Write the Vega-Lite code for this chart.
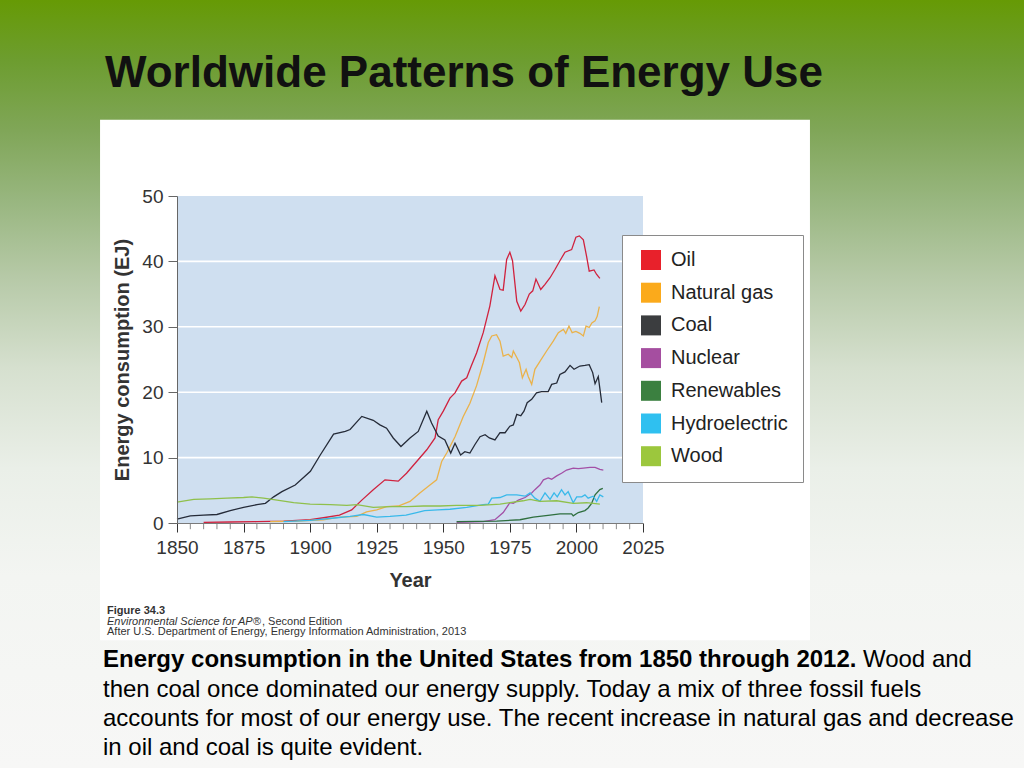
{
  "$schema": "https://vega.github.io/schema/vega-lite/v6.json",
  "width": 1024,
  "height": 768,
  "padding": 0,
  "autosize": {"type": "none"},
  "background": "#f7f7f6",
  "view": {
    "stroke": null,
    "fill": {
      "gradient": "linear", "x1": 0, "y1": 0, "x2": 0, "y2": 1,
      "stops": [
        {"offset": 0, "color": "#669a05"},
        {"offset": 0.08, "color": "#6d9d30"},
        {"offset": 0.17, "color": "#80a658"},
        {"offset": 0.26, "color": "#98b67f"},
        {"offset": 0.36, "color": "#b6c9a7"},
        {"offset": 0.48, "color": "#d6e0cf"},
        {"offset": 0.61, "color": "#eaefe8"},
        {"offset": 0.75, "color": "#f3f5f2"},
        {"offset": 1, "color": "#f7f7f6"}
      ]
    }
  },
  "layer": [
    {
      "data": {"values": [{}]},
      "mark": {"type": "rect", "fill": "#ffffff"},
      "encoding": {
        "x": {"datum": 1821.1, "type": "quantitative", "scale": {"domain": [1850, 2025], "range": [177, 643], "nice": false, "zero": false}},
        "x2": {"datum": 2087.7},
        "y": {"datum": 61.66, "type": "quantitative", "scale": {"domain": [0, 50], "range": [523, 196], "nice": false, "zero": false}},
        "y2": {"datum": -17.94}
      }
    },
    {
      "data": {"values": [{}]},
      "mark": {"type": "rect", "fill": "#cfdff0"},
      "encoding": {
        "x": {"datum": 1850, "type": "quantitative"},
        "x2": {"datum": 2025},
        "y": {"datum": 0, "type": "quantitative"},
        "y2": {"datum": 50}
      }
    },
    {
      "data": {"values": [{"g": 10}, {"g": 20}, {"g": 30}, {"g": 40}]},
      "mark": {"type": "rule", "color": "#ffffff", "strokeWidth": 1.6},
      "encoding": {
        "x": {"datum": 1850, "type": "quantitative"},
        "x2": {"datum": 2025},
        "y": {"field": "g", "type": "quantitative"}
      }
    },
    {
      "data": {"values": [
        {"t": 1855}, {"t": 1860}, {"t": 1865}, {"t": 1870}, {"t": 1880}, {"t": 1885}, {"t": 1890}, {"t": 1895},
        {"t": 1905}, {"t": 1910}, {"t": 1915}, {"t": 1920}, {"t": 1930}, {"t": 1935}, {"t": 1940}, {"t": 1945},
        {"t": 1955}, {"t": 1960}, {"t": 1965}, {"t": 1970}, {"t": 1980}, {"t": 1985}, {"t": 1990}, {"t": 1995},
        {"t": 2005}, {"t": 2010}, {"t": 2015}, {"t": 2020}
      ]},
      "mark": {"type": "rule", "color": "#8a8a8a", "strokeWidth": 1},
      "encoding": {
        "x": {"field": "t", "type": "quantitative"},
        "y": {"datum": 0, "type": "quantitative"},
        "y2": {"datum": -0.95}
      }
    },
    {
      "data": {"values": [
        {"source": "Oil", "year": 1860, "ej": 0.1}, {"source": "Oil", "year": 1870, "ej": 0.15}, {"source": "Oil", "year": 1880, "ej": 0.2}, {"source": "Oil", "year": 1890, "ej": 0.3}, {"source": "Oil", "year": 1900, "ej": 0.5}, {"source": "Oil", "year": 1905, "ej": 0.8}, {"source": "Oil", "year": 1911, "ej": 1.2}, {"source": "Oil", "year": 1915.6, "ej": 2.0}, {"source": "Oil", "year": 1919.4, "ej": 3.5}, {"source": "Oil", "year": 1923.7, "ej": 5.1}, {"source": "Oil", "year": 1928.1, "ej": 6.6}, {"source": "Oil", "year": 1933.1, "ej": 6.4}, {"source": "Oil", "year": 1936.2, "ej": 7.6}, {"source": "Oil", "year": 1940, "ej": 9.4}, {"source": "Oil", "year": 1943.8, "ej": 11.2}, {"source": "Oil", "year": 1946.9, "ej": 13.0}, {"source": "Oil", "year": 1948.1, "ej": 15.8}, {"source": "Oil", "year": 1950, "ej": 17.1}, {"source": "Oil", "year": 1952.5, "ej": 19.1}, {"source": "Oil", "year": 1954.4, "ej": 19.9}, {"source": "Oil", "year": 1956.9, "ej": 21.7}, {"source": "Oil", "year": 1958.8, "ej": 22.2}, {"source": "Oil", "year": 1960.5, "ej": 24.0}, {"source": "Oil", "year": 1962.5, "ej": 26.0}, {"source": "Oil", "year": 1965, "ej": 29.1}, {"source": "Oil", "year": 1967.5, "ej": 33.2}, {"source": "Oil", "year": 1969.4, "ej": 37.8}, {"source": "Oil", "year": 1971.3, "ej": 35.7}, {"source": "Oil", "year": 1972.5, "ej": 35.6}, {"source": "Oil", "year": 1973.8, "ej": 40.3}, {"source": "Oil", "year": 1975, "ej": 41.4}, {"source": "Oil", "year": 1976, "ej": 40.1}, {"source": "Oil", "year": 1977.6, "ej": 33.9}, {"source": "Oil", "year": 1979.1, "ej": 32.4}, {"source": "Oil", "year": 1980.7, "ej": 33.4}, {"source": "Oil", "year": 1982.3, "ej": 35.0}, {"source": "Oil", "year": 1983.6, "ej": 35.5}, {"source": "Oil", "year": 1984.8, "ej": 37.3}, {"source": "Oil", "year": 1986.6, "ej": 35.7}, {"source": "Oil", "year": 1988.2, "ej": 36.5}, {"source": "Oil", "year": 1990.1, "ej": 37.5}, {"source": "Oil", "year": 1992, "ej": 38.8}, {"source": "Oil", "year": 1993.8, "ej": 40.1}, {"source": "Oil", "year": 1995.7, "ej": 41.4}, {"source": "Oil", "year": 1998.2, "ej": 41.8}, {"source": "Oil", "year": 1999.8, "ej": 43.7}, {"source": "Oil", "year": 2001.1, "ej": 43.9}, {"source": "Oil", "year": 2002.6, "ej": 43.3}, {"source": "Oil", "year": 2003.8, "ej": 40.8}, {"source": "Oil", "year": 2004.8, "ej": 38.5}, {"source": "Oil", "year": 2006.6, "ej": 38.7}, {"source": "Oil", "year": 2007.6, "ej": 38.0}, {"source": "Oil", "year": 2008.8, "ej": 37.4},
        {"source": "Natural gas", "year": 1885, "ej": 0.2}, {"source": "Natural gas", "year": 1895, "ej": 0.3}, {"source": "Natural gas", "year": 1905, "ej": 0.5}, {"source": "Natural gas", "year": 1911.2, "ej": 0.9}, {"source": "Natural gas", "year": 1917.5, "ej": 1.0}, {"source": "Natural gas", "year": 1921.2, "ej": 1.7}, {"source": "Natural gas", "year": 1925, "ej": 2.0}, {"source": "Natural gas", "year": 1928.7, "ej": 2.5}, {"source": "Natural gas", "year": 1933.1, "ej": 2.6}, {"source": "Natural gas", "year": 1937.5, "ej": 3.3}, {"source": "Natural gas", "year": 1941.2, "ej": 4.6}, {"source": "Natural gas", "year": 1945, "ej": 5.8}, {"source": "Natural gas", "year": 1947.5, "ej": 6.6}, {"source": "Natural gas", "year": 1949.4, "ej": 9.4}, {"source": "Natural gas", "year": 1951.3, "ej": 10.7}, {"source": "Natural gas", "year": 1954.4, "ej": 13.2}, {"source": "Natural gas", "year": 1957.5, "ej": 16.3}, {"source": "Natural gas", "year": 1960, "ej": 18.3}, {"source": "Natural gas", "year": 1962.5, "ej": 21.0}, {"source": "Natural gas", "year": 1965, "ej": 24.5}, {"source": "Natural gas", "year": 1966.9, "ej": 27.6}, {"source": "Natural gas", "year": 1968.2, "ej": 28.6}, {"source": "Natural gas", "year": 1970, "ej": 28.8}, {"source": "Natural gas", "year": 1971.3, "ej": 27.8}, {"source": "Natural gas", "year": 1972.5, "ej": 25.5}, {"source": "Natural gas", "year": 1974.4, "ej": 25.8}, {"source": "Natural gas", "year": 1975.7, "ej": 25.3}, {"source": "Natural gas", "year": 1976.3, "ej": 26.3}, {"source": "Natural gas", "year": 1977.6, "ej": 25.3}, {"source": "Natural gas", "year": 1978.6, "ej": 24.5}, {"source": "Natural gas", "year": 1979.7, "ej": 22.2}, {"source": "Natural gas", "year": 1981.1, "ej": 23.5}, {"source": "Natural gas", "year": 1981.9, "ej": 22.4}, {"source": "Natural gas", "year": 1983.2, "ej": 21.2}, {"source": "Natural gas", "year": 1984.4, "ej": 23.5}, {"source": "Natural gas", "year": 1986.3, "ej": 24.7}, {"source": "Natural gas", "year": 1988.8, "ej": 26.3}, {"source": "Natural gas", "year": 1991.3, "ej": 27.8}, {"source": "Natural gas", "year": 1993.2, "ej": 29.1}, {"source": "Natural gas", "year": 1995.1, "ej": 29.6}, {"source": "Natural gas", "year": 1996, "ej": 29.0}, {"source": "Natural gas", "year": 1997.2, "ej": 30.1}, {"source": "Natural gas", "year": 1998.4, "ej": 29.1}, {"source": "Natural gas", "year": 1999.8, "ej": 29.3}, {"source": "Natural gas", "year": 2001.3, "ej": 29.0}, {"source": "Natural gas", "year": 2002.6, "ej": 28.6}, {"source": "Natural gas", "year": 2003.6, "ej": 30.1}, {"source": "Natural gas", "year": 2004.8, "ej": 29.9}, {"source": "Natural gas", "year": 2005.8, "ej": 30.6}, {"source": "Natural gas", "year": 2007, "ej": 30.9}, {"source": "Natural gas", "year": 2007.8, "ej": 31.6}, {"source": "Natural gas", "year": 2008.6, "ej": 33.1},
        {"source": "Coal", "year": 1850, "ej": 0.6}, {"source": "Coal", "year": 1855, "ej": 1.1}, {"source": "Coal", "year": 1860, "ej": 1.2}, {"source": "Coal", "year": 1865, "ej": 1.3}, {"source": "Coal", "year": 1870, "ej": 1.9}, {"source": "Coal", "year": 1875, "ej": 2.4}, {"source": "Coal", "year": 1880, "ej": 2.8}, {"source": "Coal", "year": 1883.2, "ej": 3.0}, {"source": "Coal", "year": 1886.3, "ej": 4.0}, {"source": "Coal", "year": 1889.4, "ej": 4.8}, {"source": "Coal", "year": 1894.4, "ej": 5.8}, {"source": "Coal", "year": 1900.1, "ej": 7.9}, {"source": "Coal", "year": 1903.8, "ej": 10.4}, {"source": "Coal", "year": 1908.8, "ej": 13.6}, {"source": "Coal", "year": 1913.2, "ej": 14.0}, {"source": "Coal", "year": 1915, "ej": 14.3}, {"source": "Coal", "year": 1919.4, "ej": 16.3}, {"source": "Coal", "year": 1923.7, "ej": 15.7}, {"source": "Coal", "year": 1926.2, "ej": 15.0}, {"source": "Coal", "year": 1928.7, "ej": 14.5}, {"source": "Coal", "year": 1931.2, "ej": 13.0}, {"source": "Coal", "year": 1934.1, "ej": 11.7}, {"source": "Coal", "year": 1937.5, "ej": 13.0}, {"source": "Coal", "year": 1940.6, "ej": 14.0}, {"source": "Coal", "year": 1943.8, "ej": 17.1}, {"source": "Coal", "year": 1945.6, "ej": 15.3}, {"source": "Coal", "year": 1948.1, "ej": 13.3}, {"source": "Coal", "year": 1950.6, "ej": 12.7}, {"source": "Coal", "year": 1952.8, "ej": 10.7}, {"source": "Coal", "year": 1954.4, "ej": 12.2}, {"source": "Coal", "year": 1956.5, "ej": 10.4}, {"source": "Coal", "year": 1958.1, "ej": 10.9}, {"source": "Coal", "year": 1960, "ej": 10.7}, {"source": "Coal", "year": 1961.9, "ej": 12.0}, {"source": "Coal", "year": 1963.8, "ej": 13.2}, {"source": "Coal", "year": 1965.7, "ej": 13.5}, {"source": "Coal", "year": 1967.3, "ej": 13.0}, {"source": "Coal", "year": 1969.4, "ej": 12.7}, {"source": "Coal", "year": 1971.3, "ej": 13.8}, {"source": "Coal", "year": 1973.2, "ej": 13.8}, {"source": "Coal", "year": 1975, "ej": 14.8}, {"source": "Coal", "year": 1976.3, "ej": 15.0}, {"source": "Coal", "year": 1977.6, "ej": 16.6}, {"source": "Coal", "year": 1979.1, "ej": 16.4}, {"source": "Coal", "year": 1980.3, "ej": 17.1}, {"source": "Coal", "year": 1981.5, "ej": 18.4}, {"source": "Coal", "year": 1983.2, "ej": 18.9}, {"source": "Coal", "year": 1985, "ej": 19.9}, {"source": "Coal", "year": 1986.9, "ej": 20.1}, {"source": "Coal", "year": 1989.4, "ej": 20.1}, {"source": "Coal", "year": 1990.7, "ej": 21.2}, {"source": "Coal", "year": 1992.6, "ej": 21.4}, {"source": "Coal", "year": 1993.8, "ej": 22.7}, {"source": "Coal", "year": 1995.7, "ej": 23.1}, {"source": "Coal", "year": 1997.6, "ej": 24.1}, {"source": "Coal", "year": 1999.1, "ej": 23.5}, {"source": "Coal", "year": 2001.3, "ej": 24.0}, {"source": "Coal", "year": 2003.2, "ej": 24.1}, {"source": "Coal", "year": 2004.8, "ej": 24.2}, {"source": "Coal", "year": 2006.1, "ej": 23.0}, {"source": "Coal", "year": 2007, "ej": 21.3}, {"source": "Coal", "year": 2008.2, "ej": 22.4}, {"source": "Coal", "year": 2009.5, "ej": 18.4},
        {"source": "Nuclear", "year": 1955, "ej": 0.1}, {"source": "Nuclear", "year": 1965, "ej": 0.2}, {"source": "Nuclear", "year": 1969.4, "ej": 0.5}, {"source": "Nuclear", "year": 1972.5, "ej": 1.6}, {"source": "Nuclear", "year": 1975, "ej": 3.1}, {"source": "Nuclear", "year": 1976.3, "ej": 3.0}, {"source": "Nuclear", "year": 1978.2, "ej": 3.5}, {"source": "Nuclear", "year": 1980.7, "ej": 3.9}, {"source": "Nuclear", "year": 1983.2, "ej": 4.6}, {"source": "Nuclear", "year": 1984.4, "ej": 5.1}, {"source": "Nuclear", "year": 1986.3, "ej": 5.8}, {"source": "Nuclear", "year": 1987.6, "ej": 6.6}, {"source": "Nuclear", "year": 1989.4, "ej": 6.9}, {"source": "Nuclear", "year": 1990.7, "ej": 6.7}, {"source": "Nuclear", "year": 1992.6, "ej": 7.2}, {"source": "Nuclear", "year": 1994.4, "ej": 7.6}, {"source": "Nuclear", "year": 1996.3, "ej": 8.1}, {"source": "Nuclear", "year": 1998.8, "ej": 8.4}, {"source": "Nuclear", "year": 2000.7, "ej": 8.3}, {"source": "Nuclear", "year": 2002.6, "ej": 8.4}, {"source": "Nuclear", "year": 2005.1, "ej": 8.5}, {"source": "Nuclear", "year": 2007, "ej": 8.5}, {"source": "Nuclear", "year": 2008.8, "ej": 8.2}, {"source": "Nuclear", "year": 2010.1, "ej": 8.1},
        {"source": "Renewables", "year": 1955, "ej": 0.2}, {"source": "Renewables", "year": 1970, "ej": 0.3}, {"source": "Renewables", "year": 1978.8, "ej": 0.5}, {"source": "Renewables", "year": 1983.8, "ej": 0.9}, {"source": "Renewables", "year": 1990.1, "ej": 1.2}, {"source": "Renewables", "year": 1993.8, "ej": 1.4}, {"source": "Renewables", "year": 1998.2, "ej": 1.4}, {"source": "Renewables", "year": 1998.8, "ej": 1.1}, {"source": "Renewables", "year": 2000.7, "ej": 1.6}, {"source": "Renewables", "year": 2003.2, "ej": 1.9}, {"source": "Renewables", "year": 2004.4, "ej": 2.3}, {"source": "Renewables", "year": 2005.7, "ej": 3.0}, {"source": "Renewables", "year": 2007, "ej": 4.3}, {"source": "Renewables", "year": 2008.8, "ej": 5.1}, {"source": "Renewables", "year": 2009.9, "ej": 5.3},
        {"source": "Hydroelectric", "year": 1890, "ej": 0.2}, {"source": "Hydroelectric", "year": 1900, "ej": 0.4}, {"source": "Hydroelectric", "year": 1910, "ej": 0.8}, {"source": "Hydroelectric", "year": 1915, "ej": 1.0}, {"source": "Hydroelectric", "year": 1920, "ej": 1.3}, {"source": "Hydroelectric", "year": 1925, "ej": 0.9}, {"source": "Hydroelectric", "year": 1930, "ej": 1.0}, {"source": "Hydroelectric", "year": 1936, "ej": 1.2}, {"source": "Hydroelectric", "year": 1940, "ej": 1.6}, {"source": "Hydroelectric", "year": 1943, "ej": 1.9}, {"source": "Hydroelectric", "year": 1948, "ej": 2.0}, {"source": "Hydroelectric", "year": 1952.5, "ej": 2.1}, {"source": "Hydroelectric", "year": 1958.8, "ej": 2.4}, {"source": "Hydroelectric", "year": 1965, "ej": 2.8}, {"source": "Hydroelectric", "year": 1966.9, "ej": 2.9}, {"source": "Hydroelectric", "year": 1968.2, "ej": 3.8}, {"source": "Hydroelectric", "year": 1971.3, "ej": 3.9}, {"source": "Hydroelectric", "year": 1973.8, "ej": 4.3}, {"source": "Hydroelectric", "year": 1977.6, "ej": 4.3}, {"source": "Hydroelectric", "year": 1980.7, "ej": 4.1}, {"source": "Hydroelectric", "year": 1982.6, "ej": 4.6}, {"source": "Hydroelectric", "year": 1984.4, "ej": 3.8}, {"source": "Hydroelectric", "year": 1986.3, "ej": 3.3}, {"source": "Hydroelectric", "year": 1988.2, "ej": 4.6}, {"source": "Hydroelectric", "year": 1990.1, "ej": 3.6}, {"source": "Hydroelectric", "year": 1991.6, "ej": 4.6}, {"source": "Hydroelectric", "year": 1992.8, "ej": 4.0}, {"source": "Hydroelectric", "year": 1994.4, "ej": 5.1}, {"source": "Hydroelectric", "year": 1995.7, "ej": 4.3}, {"source": "Hydroelectric", "year": 1996.9, "ej": 4.8}, {"source": "Hydroelectric", "year": 1998.8, "ej": 3.1}, {"source": "Hydroelectric", "year": 2000.1, "ej": 4.0}, {"source": "Hydroelectric", "year": 2002, "ej": 4.0}, {"source": "Hydroelectric", "year": 2003.2, "ej": 4.3}, {"source": "Hydroelectric", "year": 2004.4, "ej": 3.8}, {"source": "Hydroelectric", "year": 2006.3, "ej": 4.1}, {"source": "Hydroelectric", "year": 2007.6, "ej": 3.3}, {"source": "Hydroelectric", "year": 2008.8, "ej": 4.3}, {"source": "Hydroelectric", "year": 2010.1, "ej": 4.0},
        {"source": "Wood", "year": 1850, "ej": 3.2}, {"source": "Wood", "year": 1856.3, "ej": 3.6}, {"source": "Wood", "year": 1862.5, "ej": 3.7}, {"source": "Wood", "year": 1868.8, "ej": 3.8}, {"source": "Wood", "year": 1875, "ej": 3.9}, {"source": "Wood", "year": 1878.2, "ej": 4.0}, {"source": "Wood", "year": 1882.5, "ej": 3.8}, {"source": "Wood", "year": 1887.6, "ej": 3.5}, {"source": "Wood", "year": 1893.8, "ej": 3.1}, {"source": "Wood", "year": 1900, "ej": 2.9}, {"source": "Wood", "year": 1907.6, "ej": 2.8}, {"source": "Wood", "year": 1913.8, "ej": 2.7}, {"source": "Wood", "year": 1917.5, "ej": 2.8}, {"source": "Wood", "year": 1923.7, "ej": 2.4}, {"source": "Wood", "year": 1930, "ej": 2.5}, {"source": "Wood", "year": 1936.3, "ej": 2.5}, {"source": "Wood", "year": 1942.5, "ej": 2.6}, {"source": "Wood", "year": 1948.8, "ej": 2.6}, {"source": "Wood", "year": 1955, "ej": 2.7}, {"source": "Wood", "year": 1963.8, "ej": 2.7}, {"source": "Wood", "year": 1971.3, "ej": 2.9}, {"source": "Wood", "year": 1980, "ej": 3.4}, {"source": "Wood", "year": 1982.6, "ej": 3.6}, {"source": "Wood", "year": 1986.3, "ej": 3.3}, {"source": "Wood", "year": 1992.6, "ej": 3.4}, {"source": "Wood", "year": 1998.8, "ej": 3.0}, {"source": "Wood", "year": 2003.8, "ej": 3.1}, {"source": "Wood", "year": 2008.8, "ej": 2.9}
      ]},
      "mark": {"type": "line", "strokeWidth": 1.3},
      "encoding": {
        "x": {
          "field": "year", "type": "quantitative",
          "scale": {"domain": [1850, 2025], "range": [177, 643], "nice": false, "zero": false},
          "axis": {
            "orient": "bottom", "offset": -245, "zindex": 1,
            "values": [1850, 1875, 1900, 1925, 1950, 1975, 2000, 2025],
            "format": "d",
            "grid": false,
            "domainColor": "#7a7a7a",
            "tickColor": "#333333",
            "tickSize": 9,
            "labelFont": "Liberation Sans", "labelFontSize": 19, "labelColor": "#333333", "labelPadding": 6,
            "labelOverlap": false, "labelFlush": false,
            "title": "Year", "titleFont": "Liberation Sans", "titleFontSize": 20, "titleFontWeight": "bold", "titleColor": "#333333", "titlePadding": 13
          }
        },
        "y": {
          "field": "ej", "type": "quantitative",
          "scale": {"domain": [0, 50], "range": [523, 196], "nice": false, "zero": false},
          "axis": {
            "orient": "left", "offset": -177, "zindex": 1,
            "values": [0, 10, 20, 30, 40, 50],
            "grid": false,
            "domainColor": "#666666", "tickColor": "#666666", "tickSize": 9,
            "labelFont": "Liberation Sans", "labelFontSize": 19, "labelColor": "#333333", "labelPadding": 5,
            "title": "Energy consumption (EJ)", "titleFont": "Liberation Sans", "titleFontSize": 20, "titleFontWeight": "bold", "titleColor": "#333333", "titlePadding": 9
          }
        },
        "color": {
          "field": "source", "type": "nominal",
          "scale": {
            "domain": ["Oil", "Natural gas", "Coal", "Nuclear", "Renewables", "Hydroelectric", "Wood"],
            "range": ["#d0223e", "#eab24a", "#252b38", "#a350a6", "#2f6f3f", "#39b9ea", "#8fc04b"]
          },
          "legend": {
            "orient": "none", "legendX": 622, "legendY": 235, "title": null,
            "symbolType": "square", "symbolSize": 400, "symbolStrokeWidth": 0, "symbolOffset": 4,
            "labelFont": "Liberation Sans", "labelFontSize": 20, "labelColor": "#222222", "labelOffset": 10,
            "rowPadding": 12.7, "padding": 15,
            "fillColor": "#ffffff", "strokeColor": "#8a8a8a",
            "encode": {
              "symbols": {
                "update": {
                  "fill": {"signal": "({'Oil':'#e8212b','Natural gas':'#fbaa1b','Coal':'#3b3d3f','Nuclear':'#a54ea0','Renewables':'#3b8040','Hydroelectric':'#2fc0f0','Wood':'#9cc73d'})[datum.value]"},
                  "stroke": {"value": "transparent"},
                  "opacity": {"value": 1}
                }
              }
            }
          }
        }
      }
    },
    {
      "data": {"values": [{}]},
      "mark": {"type": "text", "font": "Liberation Sans", "fontSize": 44, "fontWeight": "bold", "color": "#111111", "align": "left", "baseline": "alphabetic"},
      "encoding": {
        "x": {"datum": 1822.96, "type": "quantitative"},
        "y": {"datum": 66.72, "type": "quantitative"},
        "text": {"value": "Worldwide Patterns of Energy Use"}
      }
    },
    {
      "data": {"values": [{}]},
      "mark": {"type": "text", "font": "Liberation Sans", "fontSize": 24, "fontWeight": "bold", "color": "#000000", "align": "left", "baseline": "alphabetic"},
      "encoding": {
        "x": {"datum": 1822.21, "type": "quantitative"},
        "y": {"datum": -22.09, "type": "quantitative"},
        "text": {"value": "Energy consumption in the United States from 1850 through 2012."}
      }
    },
    {
      "data": {"values": [{}]},
      "mark": {"type": "text", "font": "Liberation Sans", "fontSize": 24, "color": "#000000", "align": "left", "baseline": "alphabetic"},
      "encoding": {
        "x": {"datum": 2107.6, "type": "quantitative"},
        "y": {"datum": -22.09, "type": "quantitative"},
        "text": {"value": "Wood and"}
      }
    },
    {
      "data": {"values": [{}]},
      "mark": {"type": "text", "font": "Liberation Sans", "fontSize": 24, "color": "#000000", "align": "left", "baseline": "alphabetic", "lineHeight": 29},
      "encoding": {
        "x": {"datum": 1822.21, "type": "quantitative"},
        "y": {"datum": -26.53, "type": "quantitative"},
        "text": {"value": ["then coal once dominated our energy supply. Today a mix of three fossil fuels", "accounts for most of our energy use. The recent increase in natural gas and decrease", "in oil and coal is quite evident."]}
      }
    },
    {
      "data": {"values": [{}]},
      "mark": {"type": "text", "font": "Liberation Sans", "fontSize": 11, "fontWeight": "bold", "color": "#333333", "align": "left", "baseline": "alphabetic"},
      "encoding": {
        "x": {"datum": 1823.71, "type": "quantitative"},
        "y": {"datum": -13.96, "type": "quantitative"},
        "text": {"value": "Figure 34.3"}
      }
    },
    {
      "data": {"values": [{}]},
      "mark": {"type": "text", "font": "Liberation Sans", "fontSize": 11, "fontStyle": "italic", "color": "#333333", "align": "left", "baseline": "alphabetic"},
      "encoding": {
        "x": {"datum": 1823.71, "type": "quantitative"},
        "y": {"datum": -15.57, "type": "quantitative"},
        "text": {"value": "Environmental Science for AP®"}
      }
    },
    {
      "data": {"values": [{}]},
      "mark": {"type": "text", "font": "Liberation Sans", "fontSize": 11, "color": "#333333", "align": "left", "baseline": "alphabetic"},
      "encoding": {
        "x": {"datum": 1881.92, "type": "quantitative"},
        "y": {"datum": -15.57, "type": "quantitative"},
        "text": {"value": ", Second Edition"}
      }
    },
    {
      "data": {"values": [{}]},
      "mark": {"type": "text", "font": "Liberation Sans", "fontSize": 11, "color": "#333333", "align": "left", "baseline": "alphabetic"},
      "encoding": {
        "x": {"datum": 1823.71, "type": "quantitative"},
        "y": {"datum": -17.18, "type": "quantitative"},
        "text": {"value": "After U.S. Department of Energy, Energy Information Administration, 2013"}
      }
    }
  ]
}
